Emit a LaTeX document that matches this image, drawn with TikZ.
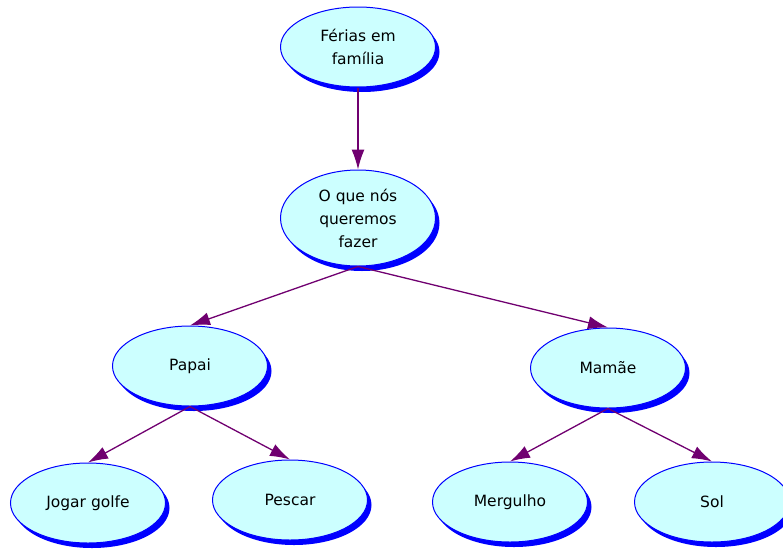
\documentclass[tikz,border=0pt]{standalone}
\usepackage{fontspec}
\setmainfont{DejaVu Sans}
\usetikzlibrary{%
  arrows.meta,%
  shapes.geometric,% wg. ellipse
  positioning,%
  shadows% wg. drop shadow
}
\definecolor{bubblefill}{HTML}{CCFFFF}
\definecolor{bubbleline}{HTML}{0000FF}
\definecolor{arrowpurple}{HTML}{700070}

\begin{document}
\begin{tikzpicture}[
    x=1pt,y=-1pt,
    >={Latex[length=20pt,width=13pt]},
    bubble/.style={ellipse,draw=bubbleline,fill=bubblefill,line width=1pt,
        minimum width=155pt,minimum height=80pt,inner sep=0pt,align=center,
        font=\fontsize{15.5}{23}\selectfont,
        drop shadow={shadow xshift=4pt,shadow yshift=-5pt,
            fill=bubbleline,opacity=1}},
    relation/.style={->,draw=arrowpurple,line width=1.3pt}
  ]
    \useasboundingbox (0,0) rectangle (783,549);

    \node [bubble] (ferias)   at (358,47)  {Férias em\\família};
    \node [bubble,minimum height=96pt]
                   (oque)     at (358,218) {O que nós\\queremos\\fazer};
    \node [bubble] (papai)    at (190,366) {Papai};
    \node [bubble] (mamae)    at (608,368) {Mamãe};
    \node [bubble] (golfe)    at (88,503)  {Jogar golfe};
    \node [bubble] (pescar)   at (290,500) {Pescar};
    \node [bubble] (mergulho) at (510,502) {Mergulho};
    \node [bubble] (sol)      at (712,502) {Sol};

    \begin{scope}[every path/.style=relation]
        \draw (ferias) -- (oque);
        \draw (oque.south)  -- (papai.north);
        \draw (oque.south)  -- (mamae.north);
        \draw (papai.south) -- (golfe.north);
        \draw (papai.south) -- (pescar.north);
        \draw (mamae.south) -- (mergulho.north);
        \draw (mamae.south) -- (sol.north);
    \end{scope}
\end{tikzpicture}
\end{document}
